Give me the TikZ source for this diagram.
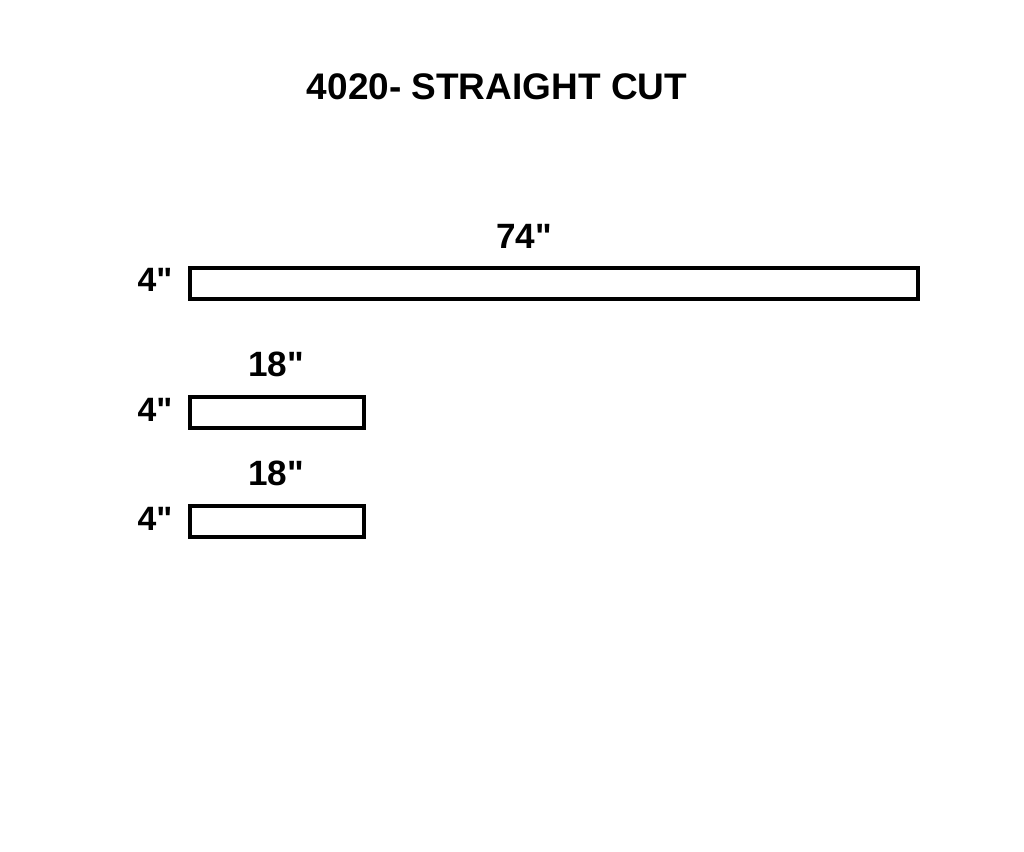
\documentclass[tikz,border=0pt]{standalone}
\usepackage{fontspec}
\setmainfont{Liberation Sans}[Ligatures=TeXOff]
\tikzset{
  board/.style={draw=black, line width=2.9pt, fill=white},
  dimlabel/.style={font=\fontsize{25}{25}\selectfont\bfseries, anchor=base, inner sep=0pt},
  sidelabel/.style={font=\fontsize{24}{24}\selectfont\bfseries, anchor=base, inner sep=0pt}
}
\begin{document}
\begin{tikzpicture}[x=0.025cm, y=-0.025cm, line join=miter]
		\useasboundingbox (0,0) rectangle (1024,852);
		\node[font=\fontsize{26.3}{26.3}\selectfont\bfseries, anchor=base, inner sep=0pt] (title) at (497,100) {4020- STRAIGHT CUT};
		% long piece
		\draw[board] (190,268) rectangle (918,299);
		\node[dimlabel] (len1) at (524,249) {74"};
		\node[sidelabel] (wid1) at (155,292) {4"};
		% short pieces
		\foreach \yy/\n in {397/2, 506/3}
		{
		\draw[board] (190,\yy) rectangle (364,\yy+31);
		\node[dimlabel] (len\n) at (276,\yy-21) {18"};
		\node[sidelabel] (wid\n) at (155,\yy+24) {4"};
		}
		\end{tikzpicture}
\end{document}
